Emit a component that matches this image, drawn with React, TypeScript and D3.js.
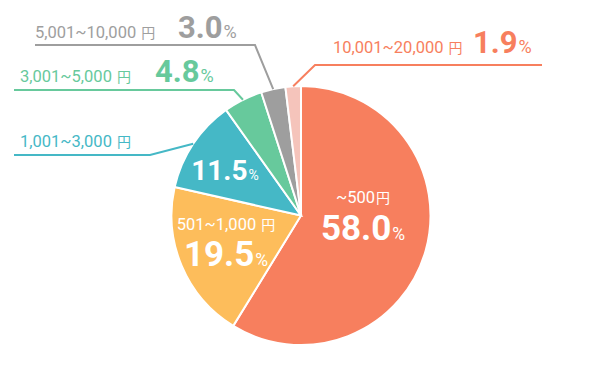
import React from "react";
import * as d3 from "d3";

const categories = ["~500", "501~1,000", "1,001~3,000", "3,001~5,000", "5,001~10,000", "10,001~20,000"];
const shares = [58.0, 19.5, 11.5, 4.8, 3.0, 1.9];
const colors = ["#f77f5e", "#fdbd5b", "#45b8c6", "#67c99c", "#9e9e9e", "#f5c4bb"];
const textColors = ["#ffffff", "#ffffff", "#45b8c6", "#67c99c", "#9e9e9e", "#f77f5e"];

const width = 600;
const height = 371;
const cx = 301;
const cy = 215.5;
const radius = 129.5;

const FONT = "Roboto, 'Noto Sans CJK JP', sans-serif";

// outside labels: label x, value x, baseline, leader elbow
type Outer = { i: number; lx: number; vx: number; y: number; lineY: number; x0: number; x1: number };
const outerLabels: Outer[] = [
  { i: 2, lx: 20, vx: 0, y: 147, lineY: 155, x0: 14, x1: 150 },
  { i: 3, lx: 20, vx: 155, y: 82, lineY: 90, x0: 14, x1: 234 },
  { i: 4, lx: 35, vx: 178, y: 37.5, lineY: 45, x0: 35, x1: 255 },
  { i: 5, lx: 333, vx: 473, y: 53, lineY: 65, x0: 542, x1: 315 },
];

// inside labels: center x, label baseline, value baseline, sizes
const innerLabels = [
  { i: 0, x: 363, ly: 203, vy: 240, vs: 35, showLabel: true },
  { i: 1, x: 226, ly: 230, vy: 266, vs: 35, showLabel: true },
  { i: 2, x: 225, ly: 0, vy: 180, vs: 28, showLabel: false },
];

export default function App() {
  const arcs = React.useMemo(() => {
    const pie = d3.pie<number>().sort(null).value((d) => d);
    return pie(shares);
  }, []);

  const arc = d3.arc<d3.PieArcDatum<number>>().innerRadius(0).outerRadius(radius);
  const edge = d3.arc<d3.PieArcDatum<number>>().innerRadius(radius).outerRadius(radius);

  return (
    <div style={{ width, height, margin: -8 }}>
      <svg width={width} height={height} style={{ display: "block" }} fontFamily={FONT}>
        <g transform={`translate(${cx},${cy})`}>
          {arcs.map((a, i) => (
            <path key={i} d={arc(a) || ""} fill={colors[i]} stroke="#fff" strokeWidth={2} />
          ))}
        </g>

        {outerLabels.map((o) => {
          const [ex, ey] = edge.centroid(arcs[o.i]);
          const pts: [number, number][] = [
            [o.x0, o.lineY],
            [o.x1, o.lineY],
            [cx + ex, cy + ey],
          ];
          return (
            <path
              key={`l-${o.i}`}
              d={d3.line()(pts) || ""}
              fill="none"
              stroke={textColors[o.i]}
              strokeWidth={2}
            />
          );
        })}

        {outerLabels.map((o) => (
          <g key={`t-${o.i}`} fill={textColors[o.i]}>
            <text x={o.lx} y={o.y} fontSize={16.5}>
              {categories[o.i]}
              <tspan fontSize={14} dx={5}>円</tspan>
            </text>
            {o.i !== 2 && (
              <text x={o.vx} y={o.y} fontWeight={700} fontSize={31}>
                {shares[o.i].toFixed(1)}
                <tspan fontSize={18} fontWeight={400} dx={1}>%</tspan>
              </text>
            )}
          </g>
        ))}

        {innerLabels.map((l) => (
          <g key={`in-${l.i}`} fill="#fff" textAnchor="middle">
            {l.showLabel && (
              <text x={l.x} y={l.ly} fontSize={16.5}>
                {categories[l.i]}
                <tspan fontSize={14} dx={l.i === 0 ? 1 : 5}>円</tspan>
              </text>
            )}
            <text x={l.x} y={l.vy} fontWeight={700} fontSize={l.vs}>
              {shares[l.i].toFixed(1)}
              <tspan fontSize={l.vs * 0.5} fontWeight={400} dx={1}>%</tspan>
            </text>
          </g>
        ))}
      </svg>
    </div>
  );
}
